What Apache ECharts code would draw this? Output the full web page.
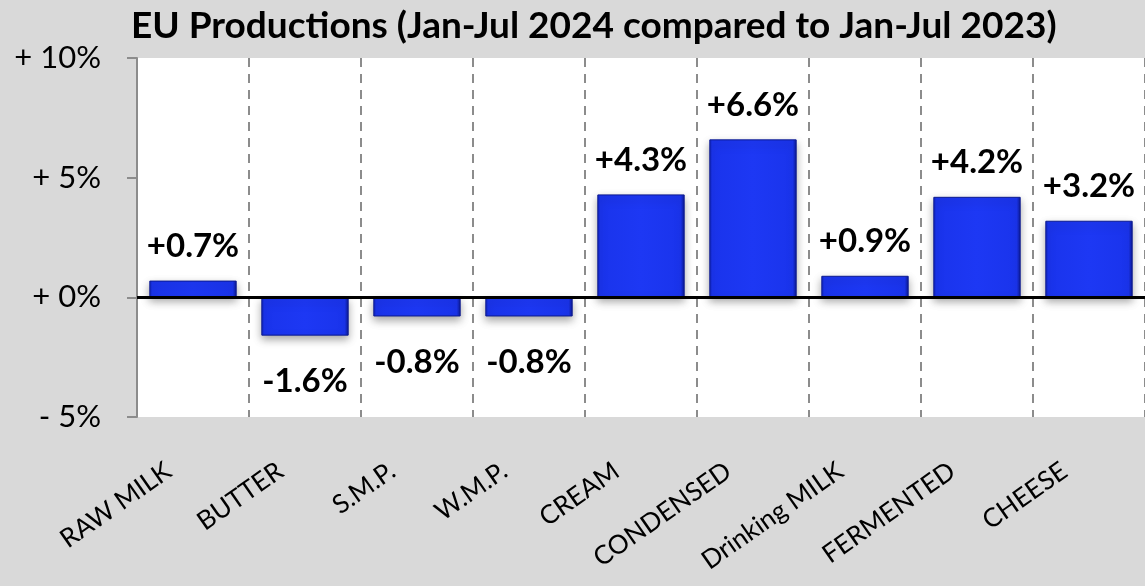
<!DOCTYPE html>
<html>
<head>
<meta charset="utf-8">
<script src="https://cdn.jsdelivr.net/npm/echarts@6/dist/echarts.min.js"></script>
<style>
  html, body { margin: 0; padding: 0; background: #d9d9d9; }
  #main { width: 1145px; height: 586px; }
</style>
</head>
<body>
<div id="main"></div>
<script>
var categories = ['RAW MILK', 'BUTTER', 'S.M.P.', 'W.M.P.', 'CREAM', 'CONDENSED', 'Drinking MILK', 'FERMENTED', 'CHEESE'];
var changes = [0.7, -1.6, -0.8, -0.8, 4.3, 6.6, 0.9, 4.2, 3.2];
var titleText = 'EU Productions (Jan-Jul 2024 compared to Jan-Jul 2023)';

var fontName = 'Lato, "Open Sans", sans-serif';

var myChart = echarts.init(document.getElementById('main'));

// bevelled blue bars: dark edges, bright body
var barColor = new echarts.graphic.LinearGradient(0, 0, 1, 0, [
    {offset: 0, color: '#1024c0'},
    {offset: 0.035, color: '#1a34ec'},
    {offset: 0.5, color: '#1d38f4'},
    {offset: 0.955, color: '#1a34ec'},
    {offset: 1, color: '#0b1890'}
]);

var option = {
    backgroundColor: '#d9d9d9',
    title: {
        text: titleText,
        left: 126,
        top: 3,
        textStyle: {fontFamily: fontName, fontWeight: 'bold', fontSize: 37, color: '#000'}
    },
    grid: {
        left: 137, top: 58, right: 0, bottom: 169,
        show: true, backgroundColor: '#fff', borderWidth: 0
    },
    xAxis: {
        type: 'category',
        data: categories,
        axisLine: {onZero: false, show: false},
        axisTick: {show: false},
        splitLine: {show: true, lineStyle: {color: '#8c8c8c', width: 2, type: [9, 7]}},
        axisLabel: {
            rotate: 35, margin: 34, interval: 0,
            padding: [0, 30, 0, 0],
            fontFamily: fontName, fontSize: 26, color: '#000'
        }
    },
    yAxis: {
        type: 'value',
        min: -5, max: 10, interval: 5,
        axisLine: {show: true, lineStyle: {color: '#8c8c8c', width: 2}},
        axisTick: {show: true, length: 10, lineStyle: {color: '#8c8c8c', width: 2}},
        splitLine: {show: false},
        axisLabel: {
            margin: 36,
            fontFamily: fontName, fontSize: 31, color: '#000',
            formatter: function (v) {
                return (v < 0 ? '- ' : '+ ') + Math.abs(v) + '%';
            }
        }
    },
    series: [{
        type: 'bar',
        data: changes.map(function (v) {
            return {
                value: v,
                label: {position: v >= 0 ? 'top' : 'bottom', distance: v >= 0 ? 18 : 29}
            };
        }),
        barCategoryGap: '22%',
        itemStyle: {
            color: barColor,
            borderColor: '#0c1a90',
            borderWidth: 1,
            shadowBlur: 8,
            shadowColor: 'rgba(0,0,0,0.35)',
            shadowOffsetY: 4
        },
        label: {
            show: true,
            fontFamily: fontName, fontWeight: 'bold', fontSize: 33, color: '#000',
            formatter: function (p) {
                return (p.value > 0 ? '+' : '') + p.value.toFixed(1) + '%';
            }
        },
        markLine: {
            silent: true,
            symbol: 'none',
            label: {show: false},
            lineStyle: {color: '#000', width: 3, type: 'solid'},
            data: [{yAxis: 0}]
        }
    }]
};

myChart.setOption(option);
</script>
</body>
</html>
